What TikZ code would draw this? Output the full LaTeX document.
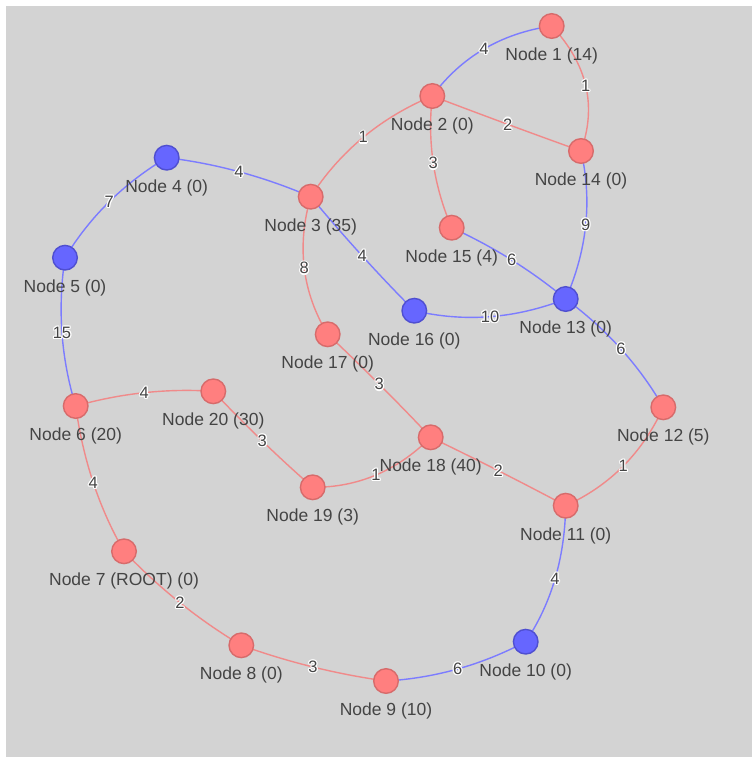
\documentclass[tikz,border=0pt]{standalone}
\usepackage{fontspec}
\setmainfont{Liberation Sans}
\usetikzlibrary{calc}

\pgfdeclarelayer{paper}
\pgfdeclarelayer{links}
\pgfsetlayers{paper,links,main}

\definecolor{canvas}{HTML}{D3D3D3}
\definecolor{redfill}{HTML}{FF7F7F}
\definecolor{redline}{HTML}{D76B6B}
\definecolor{bluefill}{HTML}{6666FF}
\definecolor{blueline}{HTML}{4F4FD0}
\definecolor{redlink}{HTML}{F08A8A}
\definecolor{bluelink}{HTML}{7C7CFF}
\definecolor{ink}{HTML}{444444}

% weight text with a thin white outline
\newcommand\halo[1]{{%
  \def\haloshift##1##2{\rlap{\kern##1\raisebox{##2}{\textcolor{white}{#1}}}}%
  \haloshift{1.2pt}{0pt}\haloshift{-1.2pt}{0pt}\haloshift{0pt}{1.2pt}\haloshift{0pt}{-1.2pt}%
  \haloshift{.85pt}{.85pt}\haloshift{-.85pt}{.85pt}\haloshift{.85pt}{-.85pt}\haloshift{-.85pt}{-.85pt}%
  #1}}

\tikzset{
  vtx/.style={circle, minimum size=24.6pt, inner sep=0pt, line width=1.4pt},
  rvtx/.style={vtx, fill=redfill, draw=redline},
  bvtx/.style={vtx, fill=bluefill, draw=blueline},
  vlabel/.style={text=ink, font=\fontsize{17.5}{19}\selectfont, inner sep=0pt},
  wlabel/.style={text=ink, font=\fontsize{16.5}{18}\selectfont, inner sep=0pt},
  redlk/.style={draw=redlink, line width=1.4pt},
  bluelk/.style={draw=bluelink, line width=1.4pt},
}

% vertex: style, name, x, y, caption
\newcommand\vertex[5]{%
  \node[#1] (#2) at (#3,#4) {};
  \node[vlabel] (#2-t) at ($(#2)+(0,30)$) {#5};}

% link: style, from, to, bend point x, y, weight
\newcommand\link[6]{%
  \draw[#1] (#2.center) .. controls ($(#2.center)!2/3!(#4,#5)$) and ($(#3.center)!2/3!(#4,#5)$) .. (#3.center)
    node[wlabel, pos=.5] (#2-#3) {\halo{#6}};}

\begin{document}
\begin{tikzpicture}[x=1pt, y=-1pt]
\begin{pgfonlayer}{paper}
  \useasboundingbox (0,0) rectangle (752,758);
  \fill[canvas] (6,6) rectangle (752,757);
\end{pgfonlayer}

\vertex{rvtx}{n1}{551.7}{26}{Node 1 (14)}
\vertex{rvtx}{n2}{432.3}{96}{Node 2 (0)}
\vertex{rvtx}{n3}{310.7}{196.7}{Node 3 (35)}
\vertex{bvtx}{n4}{166.7}{157.7}{Node 4 (0)}
\vertex{bvtx}{n5}{65}{257.7}{Node 5 (0)}
\vertex{rvtx}{n6}{75.7}{406}{Node 6 (20)}
\vertex{rvtx}{n7}{124}{551.3}{Node 7 (ROOT) (0)}
\vertex{rvtx}{n8}{241.3}{645.3}{Node 8 (0)}
\vertex{rvtx}{n9}{386}{681}{Node 9 (10)}
\vertex{bvtx}{n10}{525.7}{641.7}{Node 10 (0)}
\vertex{rvtx}{n11}{565.7}{505.7}{Node 11 (0)}
\vertex{rvtx}{n12}{663.3}{407.3}{Node 12 (5)}
\vertex{bvtx}{n13}{565.7}{299}{Node 13 (0)}
\vertex{rvtx}{n14}{581}{151}{Node 14 (0)}
\vertex{rvtx}{n15}{451.7}{227.7}{Node 15 (4)}
\vertex{bvtx}{n16}{414.3}{310.7}{Node 16 (0)}
\vertex{rvtx}{n17}{327.7}{334.3}{Node 17 (0)}
\vertex{rvtx}{n18}{430.7}{437.3}{Node 18 (40)}
\vertex{rvtx}{n19}{312.7}{487.3}{Node 19 (3)}
\vertex{rvtx}{n20}{213.3}{391.3}{Node 20 (30)}

\begin{pgfonlayer}{links}
  \link{bluelk}{n1}{n2}{476}{37}{4}
  \link{redlk}{n1}{n14}{605.1}{82.9}{1}
  \link{redlk}{n2}{n14}{508.7}{125.1}{2}
  \link{redlk}{n2}{n3}{355.1}{128.2}{1}
  \link{redlk}{n2}{n15}{424.6}{164.7}{3}
  \link{bluelk}{n14}{n13}{598}{225}{9}
  \link{bluelk}{n4}{n3}{239.3}{166.2}{4}
  \link{bluelk}{n4}{n5}{102.7}{195.7}{7}
  \link{bluelk}{n3}{n16}{362.1}{258.3}{4}
  \link{redlk}{n3}{n17}{289.4}{271.1}{8}
  \link{bluelk}{n15}{n13}{514.7}{256.6}{6}
  \link{bluelk}{n16}{n13}{490}{328.5}{10}
  \link{bluelk}{n13}{n12}{627.5}{344.8}{6}
  \link{bluelk}{n5}{n6}{53.6}{334.1}{15}
  \link{redlk}{n6}{n20}{144.1}{386.7}{4}
  \link{redlk}{n20}{n19}{261.6}{442.7}{3}
  \link{redlk}{n17}{n18}{379.4}{382.8}{3}
  \link{redlk}{n19}{n18}{380.3}{487.7}{1}
  \link{redlk}{n18}{n11}{498.4}{469.9}{2}
  \link{redlk}{n12}{n11}{632.1}{475.5}{1}
  \link{redlk}{n6}{n7}{86.7}{486.7}{4}
  \link{bluelk}{n11}{n10}{564.3}{584.3}{4}
  \link{redlk}{n7}{n8}{177.3}{607.1}{2}
  \link{redlk}{n8}{n9}{312.3}{670.8}{3}
  \link{bluelk}{n9}{n10}{459.5}{676.6}{6}
\end{pgfonlayer}
\end{tikzpicture}
\end{document}
